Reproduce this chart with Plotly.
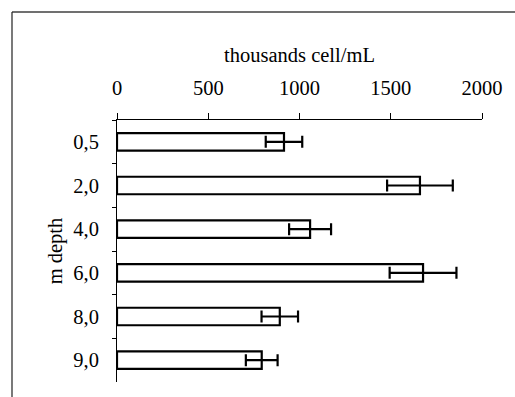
import plotly.graph_objects as go

# Cell abundance by sampling depth
depths = ["0,5", "2,0", "4,0", "6,0", "8,0", "9,0"]
cells = [915, 1660, 1058, 1677, 892, 793]
errors = [100, 180, 115, 183, 100, 87]

FONT = dict(family="Liberation Serif, Times New Roman, serif", size=20.5, color="black")

fig = go.Figure(
    go.Bar(
        x=cells,
        y=depths,
        orientation="h",
        marker=dict(color="white", line=dict(color="black", width=2.2)),
        error_x=dict(type="data", array=errors, visible=True,
                     color="black", thickness=2.2, width=6),
        width=0.4,
    )
)

W, H = 515, 397
L, R, T, B = 117, 33, 120, 15
pw, ph = W - L - R, H - T - B

fig.update_layout(
    width=W, height=H,
    margin=dict(l=L, r=R, t=T, b=B),
    paper_bgcolor="white", plot_bgcolor="white",
    font=FONT,
    showlegend=False,
    xaxis=dict(
        side="top", range=[0, 2000], dtick=500, tick0=0,
        showgrid=False, zeroline=False,
        showline=True, linecolor="black", linewidth=1,
        ticks="outside", ticklen=6, tickcolor="black", tickwidth=1,
        ticklabelstandoff=10,
        title=dict(text="thousands cell/mL", standoff=8, font=FONT),
        fixedrange=True,
    ),
    yaxis=dict(
        type="category", categoryorder="array", categoryarray=depths,
        range=[len(depths) - 0.5, -0.5],
        showgrid=False, zeroline=False,
        showline=True, linecolor="black", linewidth=1,
        ticks="outside", ticklen=4, tickcolor="black", tickwidth=1,
        tickson="boundaries",
        ticklabelstandoff=13,
        title=dict(text="m depth", standoff=4.5, font=FONT),
        fixedrange=True,
    ),
    shapes=[
        # frame around the chart
        dict(type="line", xref="paper", yref="paper",
             x0=(12 - L) / pw, x1=(W + 5 - L) / pw,
             y0=1 + (T - 12) / ph, y1=1 + (T - 12) / ph,
             line=dict(color="#404040", width=1.5)),
        dict(type="line", xref="paper", yref="paper",
             x0=(12 - L) / pw, x1=(12 - L) / pw,
             y0=1 + (T - 12) / ph, y1=-(B + 5) / ph,
             line=dict(color="#202020", width=1.2)),
    ],
)

fig.write_html("out.html")
